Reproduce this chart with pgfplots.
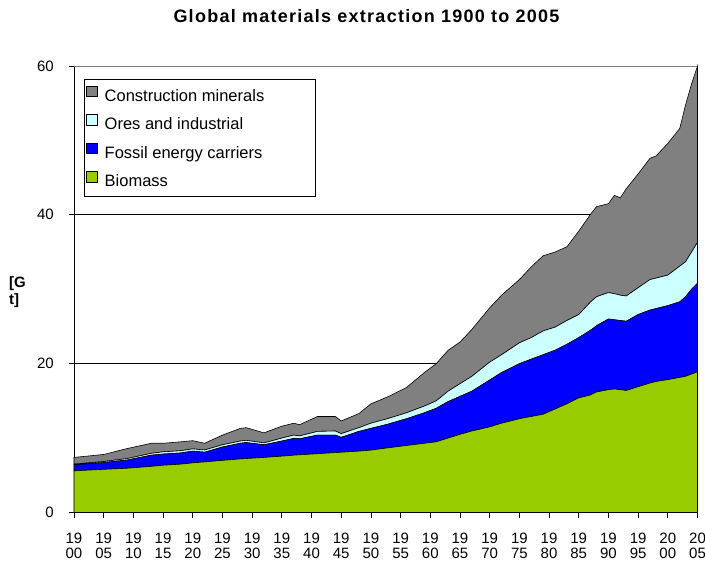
\documentclass[border=0pt]{standalone}
\usepackage{fontspec}
\setmainfont{Liberation Sans}
\usepackage{pgfplots}
\pgfplotsset{compat=1.18}
\usepackage{pgfplotstable}
\definecolor{cgray}{HTML}{808080}
\definecolor{ccyan}{HTML}{CCFFFF}
\definecolor{cblue}{HTML}{0000FF}
\definecolor{cgreen}{HTML}{99CC00}
\pgfplotstableread{
year bio fos ore con
1900 5.6 0.8 0.1 0.9
1905 5.8 0.9 0.15 0.95
1909 5.95 1.1 0.2 1.35
1913 6.2 1.5 0.25 1.35
1915 6.35 1.5 0.3 1.15
1918 6.5 1.5 0.3 1.2
1920 6.67 1.58 0.3 1.1
1922 6.8 1.3 0.3 0.9
1925 7.0 1.8 0.3 1.3
1928 7.2 2.1 0.3 1.7
1929 7.25 2.15 0.3 1.7
1932 7.4 1.7 0.25 1.35
1935 7.57 2.03 0.4 1.6
1937 7.7 2.25 0.45 1.6
1938 7.75 2.15 0.4 1.5
1941 7.9 2.5 0.5 2.0
1944 8.05 2.35 0.55 1.95
1945 8.1 2.0 0.5 1.7
1948 8.25 2.65 0.5 1.9
1950 8.38 2.92 0.7 2.6
1953 8.7 3.2 0.75 2.95
1956 9.0 3.6 0.8 3.4
1959 9.3 4.1 0.9 4.5
1961 9.5 4.5 1.0 5.0
1963 10.0 4.9 1.4 5.5
1965 10.5 5.1 1.7 5.6
1967 10.95 5.35 2.0 6.3
1970 11.5 6.3 2.4 7.3
1972 12.0 6.8 2.4 8.0
1975 12.6 7.4 2.8 8.5
1977 12.9 7.7 2.9 9.5
1979 13.2 8.0 3.2 10.1
1981 13.9 7.9 3.1 10.1
1983 14.6 8.0 3.2 9.9
1985 15.4 8.1 3.1 11.2
1987 15.8 8.7 3.8 11.8
1988 16.2 8.9 3.9 12.1
1990 16.5 9.5 3.55 11.95
1991 16.6 9.3 3.5 13.2
1992 16.5 9.3 3.4 13.1
1993 16.4 9.3 3.4 14.4
1995 16.9 9.7 3.6 15.3
1997 17.4 9.8 4.1 16.3
1998 17.6 9.8 4.1 16.4
2000 17.85 9.95 4.1 17.7
2002 18.15 10.15 4.8 18.5
2003 18.3 10.7 4.7 21.1
2004 18.6 11.4 5.0 22.6
2005 18.9 11.9 5.5 23.7
}\data
\begin{document}
\begin{tikzpicture}
\begin{axis}[
  width=623.5bp, height=446.5bp, scale only axis,
  xmin=1900, xmax=2005, ymin=0, ymax=60,
  clip=false,
  axis x line*=bottom, axis y line*=left,
  axis line style={black, line width=0.8bp},
  xtick={1900,1905,...,2005},
  xticklabels={19\\00,19\\05,19\\10,19\\15,19\\20,19\\25,19\\30,19\\35,19\\40,19\\45,19\\50,19\\55,19\\60,19\\65,19\\70,19\\75,19\\80,19\\85,19\\90,19\\95,20\\00,20\\05},
  ytick={0,20,40,60},
  ymajorgrids, grid style={black, line width=0.7bp},
  tick align=outside, major tick length=5bp,
  tick style={black, line width=0.8bp},
  x tick label style={font=\fontsize{15bp}{15.5bp}\selectfont, align=center, inner sep=0pt, anchor=north, yshift=-15bp},
  y tick label style={font=\fontsize{15bp}{15.5bp}\selectfont, inner sep=0pt, anchor=east, xshift=-15bp},
  /pgf/number format/assume math mode=true,
  stack plots=y,
  reverse legend,
  legend cell align=left,
  legend image code/.code={\draw[#1, draw=black, line width=0.7bp] (0bp,0.5bp) rectangle (10.5bp,11bp); \path[draw=none, fill=none] (0bp,0bp) -- (18bp,0bp);},
  legend style={at={(axis description cs:0.016,0.9705)}, anchor=north west,
    draw=black, line width=0.8bp, fill=white,
    font=\fontsize{16.5bp}{18bp}\selectfont,
    inner xsep=2bp, inner ysep=6bp, row sep=9.5bp,
    nodes={inner sep=0pt, text height=12bp, text depth=3.5bp}},
]
\addplot[fill=cgreen, draw=black, line width=0.6bp] table[x=year, y=bio]{\data} \closedcycle;
\addlegendentry{Biomass}
\addplot[fill=cblue, draw=black, line width=0.6bp] table[x=year, y=fos]{\data} \closedcycle;
\addlegendentry{Fossil energy carriers}
\addplot[fill=ccyan, draw=black, line width=0.6bp] table[x=year, y=ore]{\data} \closedcycle;
\addlegendentry{Ores and industrial}
\addplot[fill=cgray, draw=black, line width=0.6bp] table[x=year, y=con]{\data} \closedcycle;
\addlegendentry{\makebox[209bp][l]{Construction minerals}}
\draw[cgray, line width=0.8bp] (rel axis cs:0,1) -- (rel axis cs:1,1) -- (rel axis cs:1,0);
\coordinate (ll) at (rel axis cs:0,0);
\end{axis}
\node[anchor=base, font=\fontsize{18bp}{20bp}\selectfont\bfseries\addfontfeature{LetterSpace=7}] at ([shift={(292.5bp,489.8bp)}]ll) {Global materials extraction 1900 to 2005};
\node[anchor=base west, inner sep=0pt, font=\fontsize{15bp}{16bp}\selectfont\bfseries] at ([shift={(-65bp,224.5bp)}]ll) {[G};
\node[anchor=base west, inner sep=0pt, font=\fontsize{15bp}{16bp}\selectfont\bfseries] at ([shift={(-65bp,207.5bp)}]ll) {t]};
\pgfresetboundingbox
\path[use as bounding box] ([shift={(-74bp,-48.5bp)}]ll) rectangle ++(705bp,561bp);
\end{tikzpicture}
\end{document}
